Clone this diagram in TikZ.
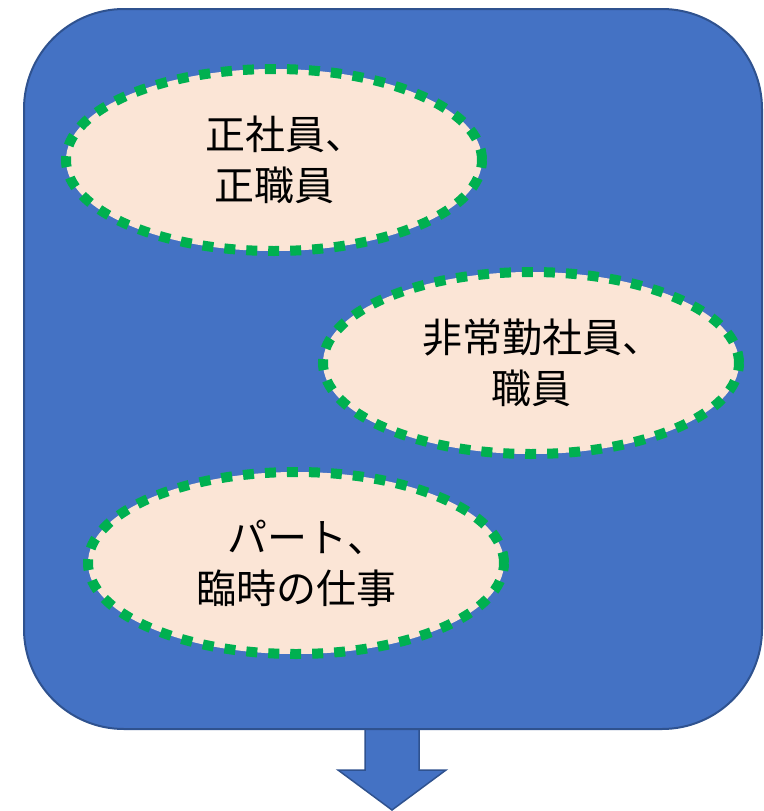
\documentclass[tikz,border=0pt]{standalone}
\usepackage{fontspec}
\newfontfamily\jpfont{Noto Sans CJK JP}
\newcommand{\jptou}{\makebox[0.42em][l]{、}}
\definecolor{boxblue}{HTML}{4472C4}
\definecolor{boxedge}{HTML}{2F528F}
\definecolor{dotgreen}{HTML}{00B050}
\definecolor{peach}{HTML}{FBE5D6}
\tikzset{
  bubble/.style={ellipse, fill=peach, draw=dotgreen, line width=10pt,
    dash pattern=on 11pt off 11pt, minimum width=416pt, minimum height=182pt,
    inner sep=0pt, align=center, font=\jpfont\fontsize{40}{51}\selectfont, text=black},
  panel/.style={fill=boxblue, draw=boxedge, line width=2pt, rounded corners=100pt},
  downarrow/.style={fill=boxblue, draw=boxedge, line width=1.5pt, line join=miter}
}
\usetikzlibrary{shapes.geometric}
\begin{document}
\begin{tikzpicture}[x=1pt,y=-1pt]
\useasboundingbox (0,0) rectangle (763,811);
\coordinate (s1) at (365,729);
\coordinate (s2) at (365,770);
\coordinate (h1) at (338,770);
\coordinate (tip) at (392,810);
\coordinate (h2) at (446,770);
\coordinate (s3) at (419,770);
\coordinate (s4) at (419,729);
\draw[downarrow] (s1) -- (s2) -- (h1) -- (tip) -- (h2) -- (s3) -- (s4);
\draw[panel] (24,9) rectangle (762,729);
\node[bubble] (a) at (274,160) {正社員\jptou\\正職員};
\node[bubble] (b) at (531,363) {非常勤社員\jptou\\職員};
\node[bubble] (c) at (296,563) {パート\jptou\\臨時の仕事};
\end{tikzpicture}
\end{document}
